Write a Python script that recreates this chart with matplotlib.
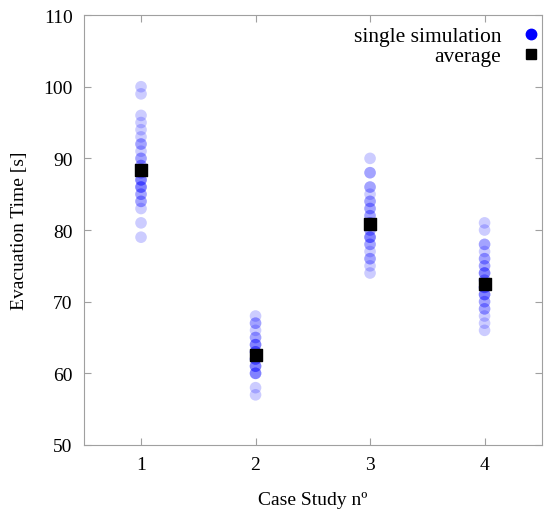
import matplotlib
matplotlib.use("Agg")
import matplotlib.pyplot as plt
from matplotlib.lines import Line2D

plt.rcParams['font.family'] = ['Liberation Serif', 'DejaVu Serif']

cases = [1, 2, 3, 4]
case1 = [100, 99, 96, 95, 94, 93, 92, 92, 91, 90, 90, 89, 89, 88, 88, 87, 87, 87,
         86, 86, 86, 85, 85, 84, 84, 83, 81, 79]
case2 = [68, 67, 67, 66, 65, 65, 64, 64, 64, 63, 63, 63, 62, 62, 62, 61, 61, 61,
         60, 60, 60, 58, 57]
case3 = [90, 88, 88, 86, 86, 85, 84, 84, 83, 83, 82, 82, 81, 81, 80, 80, 79, 79,
         79, 78, 78, 77, 76, 76, 75, 74]
case4 = [81, 80, 78, 78, 77, 76, 76, 75, 75, 74, 74, 74, 73, 73, 72, 72, 72, 71,
         71, 71, 70, 70, 69, 69, 68, 67, 66]
averages = [88.4, 62.6, 80.8, 72.5]

fig = plt.figure(figsize=(5.44, 5.10), dpi=100)
ax = fig.add_axes([0.154, 0.1255, 0.842, 0.843])

for c, vals in zip(cases, [case1, case2, case3, case4]):
    ax.scatter([c] * len(vals), vals, s=70, color='blue', alpha=0.2,
               edgecolors='none', zorder=2)
ax.scatter(cases, averages, s=85, marker='s', color='black', zorder=3)

ax.set_xlim(0.5, 4.5)
ax.set_ylim(50, 110)
ax.set_xticks(cases)
ax.set_yticks(range(50, 111, 10))
ax.tick_params(direction='in', top=True, right=True, length=5, color='#a0a0a0',
               labelsize=14, pad=8)
for s in ax.spines.values():
    s.set_color('#a0a0a0')

ax.set_xlabel('Case Study n\u00ba', fontsize=14, labelpad=13)
ax.set_ylabel('Evacuation Time [s]', fontsize=14, labelpad=11)

handles = [Line2D([], [], ls='none', marker='o', color='blue', markersize=7.5),
           Line2D([], [], ls='none', marker='s', color='black', markersize=7)]
ax.legend(handles, ['single simulation', 'average'], loc='upper right',
          bbox_to_anchor=(1.017, 0.992),
          frameon=False, markerfirst=False, fontsize=15.5, handlelength=1.0,
          handletextpad=0.9, labelspacing=0.0, borderaxespad=0.0,
          borderpad=0.35)

fig.savefig('out.png', dpi=100)
